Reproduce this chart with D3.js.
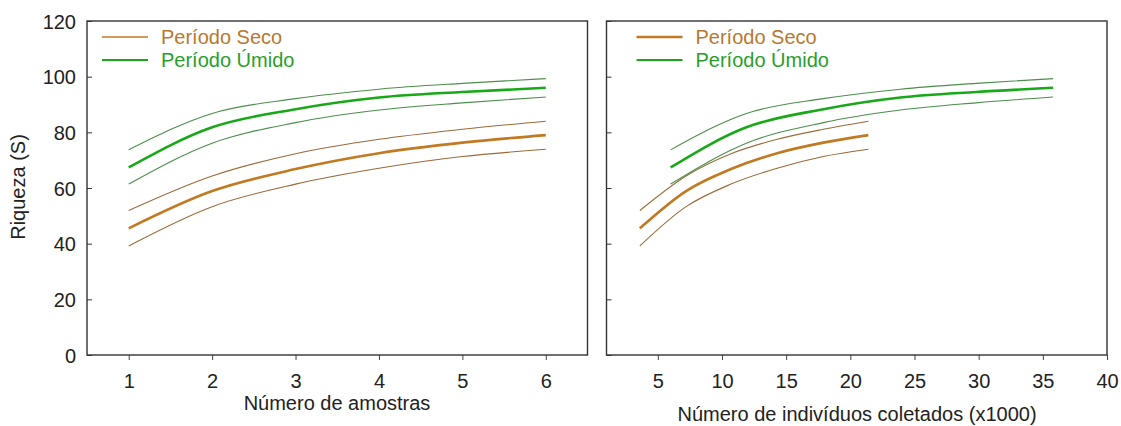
<!DOCTYPE html>
<html>
<head>
<meta charset="utf-8">
<script src="https://cdn.jsdelivr.net/npm/d3@7"></script>
<style>
  body { margin: 0; background: #fff; }
  svg { font-family: Arial, "Liberation Sans", sans-serif; }
  .tick text { font-size: 20px; fill: #222; }
</style>
</head>
<body>
<svg id="chart" width="1121" height="426"></svg>
<script>
var width = 1121, height = 426;

// amostras (left panel)
var amostras = [1, 2, 3, 4, 5, 6];
// individuals (x1000) at each sample, right panel
var indSeco  = [3.6, 7.2, 10.7, 14.3, 17.9, 21.4];
var indUmido = [6.0, 11.9, 17.9, 23.9, 29.8, 35.8];

var secoMean  = [45.5, 58.9, 66.8, 72.5, 76.3, 79.0];
var secoUpper = [51.9, 64.3, 72.3, 77.5, 81.1, 84.0];
var secoLower = [39.2, 53.3, 61.4, 67.1, 71.3, 73.9];

var umidoMean  = [67.4, 81.8, 88.3, 92.5, 94.5, 96.0];
var umidoUpper = [73.7, 86.8, 92.1, 95.5, 97.6, 99.3];
var umidoLower = [61.4, 76.1, 83.5, 88.0, 90.6, 92.7];

var yTicks = [0, 20, 40, 60, 80, 100, 120];
var xTicksL = [1, 2, 3, 4, 5, 6];
var xTicksR = [5, 10, 15, 20, 25, 30, 35, 40];

var colSeco = "#c17a22", colSecoThin = "#9b6a38", colSecoText = "#b8782e";
var colUmido = "#18a818", colUmidoThin = "#4b8f4b", colUmidoText = "#2a9e2a";

var svg = d3.select("#chart");

var y = d3.scaleLinear().domain([0, 120]).range([355, 21]);
var xL = d3.scaleLinear().domain([0.5, 6.5]).range([87, 587.5]);
var xR = d3.scaleLinear().domain([1, 40]).range([606.5, 1107]);

function drawPanel(x, xTicks, showYLabels, seriesX_seco, seriesX_umido, legendThin) {
  var g = svg.append("g");

  // x axis (outward ticks)
  var xa = g.append("g").attr("transform", "translate(0,355)")
    .call(d3.axisBottom(x).tickValues(xTicks).tickSize(5).tickPadding(14).tickFormat(d3.format("d")));
  xa.select(".domain").remove();
  xa.selectAll(".tick line").attr("stroke", "#444");

  // y axis (inward ticks)
  var ya = g.append("g").attr("transform", "translate(" + x.range()[0] + ",0)")
    .call(d3.axisRight(y).tickValues(yTicks).tickSize(5).tickFormat(""));
  ya.select(".domain").remove();
  ya.selectAll(".tick line").attr("stroke", "#333");
  if (showYLabels) {
    ya.selectAll(".tick").append("text")
      .attr("x", -11).attr("dy", "0.35em")
      .attr("text-anchor", "end")
      .style("font-size", "20px").attr("fill", "#222")
      .text(function(d){ return d; });
  }

  function line(xs) {
    return d3.line()
      .x(function(d, i){ return x(xs[i]); })
      .y(function(d){ return y(d); })
      .curve(d3.curveMonotoneX);
  }

  var series = [
    {v: secoUpper, xs: seriesX_seco, c: colSecoThin, w: 1.1},
    {v: secoLower, xs: seriesX_seco, c: colSecoThin, w: 1.1},
    {v: secoMean, xs: seriesX_seco, c: colSeco, w: 2.6},
    {v: umidoUpper, xs: seriesX_umido, c: colUmidoThin, w: 1.1},
    {v: umidoLower, xs: seriesX_umido, c: colUmidoThin, w: 1.1},
    {v: umidoMean, xs: seriesX_umido, c: colUmido, w: 2.6}
  ];
  series.forEach(function(s){
    g.append("path").datum(s.v)
      .attr("d", line(s.xs))
      .attr("fill", "none")
      .attr("stroke", s.c)
      .attr("stroke-width", s.w);
  });

  // frame
  g.append("rect")
    .attr("x", x.range()[0]).attr("y", 21)
    .attr("width", x.range()[1] - x.range()[0]).attr("height", 334)
    .attr("fill", "none").attr("stroke", "#333").attr("stroke-width", 1.4);

  // legend
  var lx = x.range()[0] + (legendThin ? 15 : 30);
  var leg = [
    {t: "Período Seco", c: colSeco, tc: colSecoText, w: legendThin ? 1.3 : 2.6, yy: 37},
    {t: "Período Úmido", c: colUmido, tc: colUmidoText, w: 2.2, yy: 60}
  ];
  leg.forEach(function(l){
    g.append("line")
      .attr("x1", lx).attr("x2", lx + 46)
      .attr("y1", l.yy).attr("y2", l.yy)
      .attr("stroke", l.c).attr("stroke-width", l.w);
    g.append("text")
      .attr("x", lx + 59).attr("y", l.yy).attr("dy", "0.35em")
      .style("font-size", "20px").attr("fill", l.tc)
      .text(l.t);
  });
}

drawPanel(xL, xTicksL, true, amostras, amostras, true);
drawPanel(xR, xTicksR, false, indSeco, indUmido, false);

// axis titles
svg.append("text")
  .attr("transform", "translate(25,187) rotate(-90)")
  .attr("text-anchor", "middle")
  .style("font-size", "20px").attr("fill", "#222")
  .text("Riqueza (S)");

svg.append("text")
  .attr("x", 337).attr("y", 410)
  .attr("text-anchor", "middle")
  .style("font-size", "20px").attr("fill", "#222")
  .text("Número de amostras");

svg.append("text")
  .attr("x", 857).attr("y", 421)
  .attr("text-anchor", "middle")
  .style("font-size", "20px").attr("fill", "#222")
  .text("Número de indivíduos coletados (x1000)");
</script>
</body>
</html>
